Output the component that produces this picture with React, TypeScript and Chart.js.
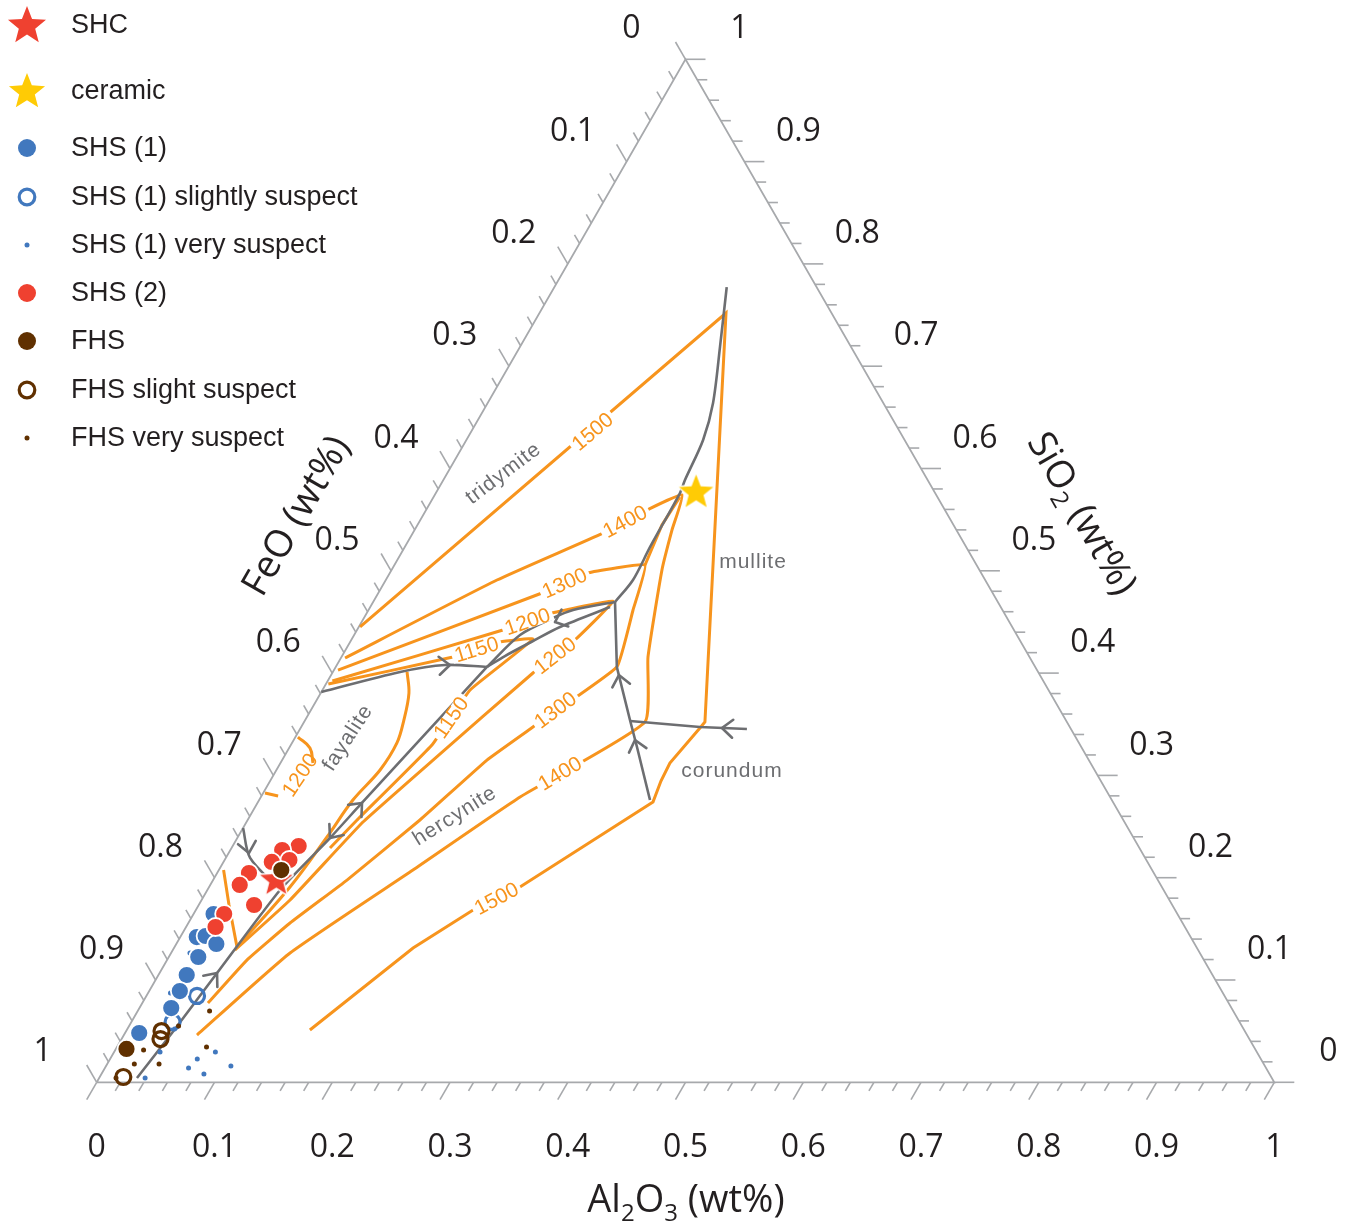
import React, { useEffect, useRef } from 'react';
import { Chart, registerables } from 'chart.js';
Chart.register(...registerables);

// Every composition is [Al2O3, SiO2] as mass fraction; FeO = 1 - Al2O3 - SiO2
type P = [number, number];

// ---------------- samples ----------------
const shcPoints: P[] = [[0.053, 0.199]];
const ceramicPoints: P[] = [[0.220, 0.578]];
const shs1Points: P[] = [[0.017, 0.1645], [0.014, 0.142], [0.021, 0.143], [0.034, 0.1352], [0.025, 0.1225], [0.024, 0.1049], [0.026, 0.0892], [0.027, 0.0726], [0.012, 0.0482]];
const shs1SlightPoints: P[] = [[0.043, 0.0844], [0.035, 0.0589]];
const shs1VeryPoints: P[] = [[0.039, 0.0042], [0.039, 0.0296], [0.074, 0.0228], [0.071, 0.014], [0.087, 0.0081], [0.086, 0.0296], [0.106, 0.0159], [0.040, 0.0521], [0.019, 0.0873], [0.016, 0.1264]];
const shs2Points: P[] = [[0.056, 0.231], [0.044, 0.227], [0.055, 0.2173], [0.041, 0.2154], [0.027, 0.2046], [0.025, 0.1929], [0.047, 0.1733], [0.026, 0.1645], [0.025, 0.1518]];
const fhsPoints: P[] = [[0.053, 0.2075], [0.009, 0.0326]];
const fhsSlightPoints: P[] = [[0.030, 0.0501], [0.033, 0.0423], [0.020, 0.0052]];
const fhsVeryPoints: P[] = [[0.0143, 0.0042], [0.023, 0.0179], [0.024, 0.0316], [0.044, 0.0179], [0.042, 0.055], [0.076, 0.0345], [0.061, 0.0697]];

// ---------------- liquidus isotherms ----------------
const iso1500: P[] = [[0.1555, 0.0511], [0.2030, 0.1313], [0.2354, 0.1684], [0.2640, 0.1909], [0.3354, 0.2740], [0.3319, 0.2945], [0.3307, 0.3121], [0.3391, 0.3463], [0.3404, 0.3522], [0.1584, 0.7520], [0.0011, 0.4451]];
const iso1400: P[] = [[0.0621, 0.0462], [0.1010, 0.1264], [0.1648, 0.2075], [0.2201, 0.2789], [0.2895, 0.3522], [0.2603, 0.4157], [0.2296, 0.5008], [0.2186, 0.5399], [0.2100, 0.5741], [0.1876, 0.5594], [0.1615, 0.5369], [0.0944, 0.4910], [0.0035, 0.4148]];
const iso1300: P[] = [[0.0557, 0.0775], [0.0678, 0.1195], [0.0863, 0.1557], [0.1137, 0.1977], [0.1463, 0.2564], [0.1739, 0.3150], [0.1968, 0.3473], [0.2387, 0.4060], [0.2246, 0.4617], [0.2128, 0.5057], [0.1675, 0.4978], [0.1390, 0.4783], [0.0034, 0.4030]];
const iso1300Mullite: P[] = [[0.2128, 0.5057], [0.2076, 0.5448], [0.2092, 0.5721]];
const iso1200: P[] = [[0.0527, 0.1293], [0.0751, 0.1782], [0.0989, 0.2544], [0.1281, 0.3150], [0.1704, 0.4001], [0.1907, 0.4343], [0.2032, 0.4705], [0.1572, 0.4587], [0.1239, 0.4421], [0.0040, 0.3923]];
const iso1150: P[] = [[0.0836, 0.2290], [0.0929, 0.2564], [0.1198, 0.3297], [0.1253, 0.3835], [0.1538, 0.4333], [0.1273, 0.4304], [0.0947, 0.4157], [0.0020, 0.3894]];
const iso1150Fayalite: P[] = [[0.0630, 0.4011], [0.0749, 0.3805], [0.0838, 0.3541], [0.0891, 0.3317], [0.0880, 0.3053], [0.0796, 0.2759], [0.0757, 0.2398], [0.0687, 0.1909], [0.0530, 0.1323]];
const isoWustite: P[] = [[0.0530, 0.1323], [0.0257, 0.1733], [0.0040, 0.2075]];
const iso1200FayaliteA: P[] = [[0.0021, 0.3375], [0.0177, 0.3268], [0.0276, 0.3121]];
const iso1200FayaliteB: P[] = [[0.0015, 0.2828], [0.0141, 0.2799]];

// ---------------- field boundaries ----------------
const bndTridymiteMullite: P[] = [[0.1463, 0.7774], [0.1699, 0.7188], [0.1914, 0.6640], [0.2010, 0.6279], [0.2052, 0.5887], [0.2073, 0.5760], [0.2083, 0.5233], [0.2099, 0.4910], [0.2054, 0.4695]];
const bndUpper: P[] = [[0.2054, 0.4695], [0.1737, 0.4617], [0.1606, 0.4539], [0.1409, 0.4372], [0.1284, 0.4060]];
const bndLower: P[] = [[0.2036, 0.4646], [0.1709, 0.4451], [0.1548, 0.4314], [0.1383, 0.4167], [0.1284, 0.4060]];
const bndHercyniteMullite: P[] = [[0.2054, 0.4695], [0.2387, 0.4060], [0.2758, 0.3541], [0.2949, 0.3278], [0.3319, 0.2759]];
const bndCorundumMullite: P[] = [[0.2763, 0.3532], [0.3386, 0.3473], [0.3795, 0.3453]];
const bndFayaliteTridymite: P[] = [[0.0000, 0.3815], [0.0571, 0.4011], [0.0918, 0.4079], [0.1284, 0.4060]];
const bndFayaliteHercynite: P[] = [[0.1284, 0.4060], [0.0881, 0.2711], [0.0787, 0.2388], [0.0617, 0.1880], [0.0488, 0.1068], [0.0398, 0.0482], [0.0321, 0.0042]];
const bndWustite: P[] = [[0.0000, 0.2486], [0.0206, 0.2193], [0.0617, 0.1880]];

// arrows: [tip, tail]
const arrowMarks: [P, P][] = [
  [[0.0960, 0.4079], [0.0838, 0.4069]],
  [[0.1642, 0.4499], [0.1740, 0.4558]],
  [[0.2444, 0.3981], [0.2544, 0.3835]],
  [[0.2898, 0.3346], [0.3005, 0.3199]],
  [[0.3578, 0.3463], [0.3710, 0.3453]],
  [[0.0888, 0.2730], [0.0857, 0.2623]],
  [[0.0787, 0.2388], [0.0808, 0.2515]],
  [[0.0488, 0.1068], [0.0459, 0.0922]],
  [[0.0172, 0.2241], [0.0074, 0.2388]],
];

// isotherm labels: text, position, angle (deg)
const isoLabelText = ['1500', '1400', '1300', '1200', '1150', '1200', '1150', '1300', '1400', '1500', '1200'];
const isoLabelAt: P[] = [[0.1029, 0.6362], [0.1745, 0.5482], [0.1533, 0.4881], [0.1406, 0.4504], [0.1110, 0.4231], [0.1806, 0.4172], [0.1226, 0.3566], [0.2076, 0.3639], [0.2425, 0.3019], [0.2497, 0.1797], [0.0224, 0.3004]];
const isoLabelAngle = [40, 28, 24, 19, 17, 38, 55, 37, 31, 28, 56];

const fieldText = ['tridymite', 'mullite', 'corundum', 'fayalite', 'hercynite'];
const fieldAt: P[] = [[0.0479, 0.5951], [0.3030, 0.5086], [0.3873, 0.3043], [0.0451, 0.3366], [0.1741, 0.2603]];
const fieldAngle = [37, 0, 0, 57, 32];

const tickLabels = ['0', '0.1', '0.2', '0.3', '0.4', '0.5', '0.6', '0.7', '0.8', '0.9', '1'];
const legendLabels = ['SHC', 'ceramic', 'SHS (1)', 'SHS (1) slightly suspect', 'SHS (1) very suspect', 'SHS (2)', 'FHS', 'FHS slight suspect', 'FHS very suspect'];

// ---------------- styling ----------------
const ORANGE = '#F7941D';
const GREY = '#6D6E71';
const AXIS = '#A7A9AC';
const TXT = '#231F20';
const BLUE = '#4178BE';
const RED = '#EF4130';
const BROWN = '#603000';
const YELLOW = '#FFCB05';

const toXY = (p: P) => ({ x: p[0] + p[1] / 2, y: p[1] });

function starPath(ctx: CanvasRenderingContext2D, cx: number, cy: number, R: number, r: number) {
  ctx.beginPath();
  for (let i = 0; i < 10; i++) {
    const rad = i % 2 === 0 ? R : r;
    const a = -Math.PI / 2 + (i * Math.PI) / 5;
    const x = cx + rad * Math.cos(a);
    const y = cy + rad * Math.sin(a);
    if (i === 0) ctx.moveTo(x, y);
    else ctx.lineTo(x, y);
  }
  ctx.closePath();
}

function makeStar(color: string, R: number, outline: number) {
  const c = document.createElement('canvas');
  const s = Math.ceil(2 * R + 2 * outline + 4);
  c.width = s;
  c.height = s;
  const ctx = c.getContext('2d')!;
  starPath(ctx, s / 2, s / 2 + 1.5, R, R * 0.43);
  if (outline) {
    ctx.lineWidth = outline * 2;
    ctx.strokeStyle = '#fff';
    ctx.lineJoin = 'round';
    ctx.stroke();
  }
  ctx.fillStyle = color;
  ctx.fill();
  return c;
}

function drawRich(ctx: CanvasRenderingContext2D, parts: { t: string; sub?: boolean }[], cx: number, cy: number, angleDeg: number, size: number) {
  ctx.save();
  ctx.translate(cx, cy);
  ctx.rotate((angleDeg * Math.PI) / 180);
  const fMain = `${size}px "Open Sans", sans-serif`;
  const fSub = `${Math.round(size * 0.62)}px "Open Sans", sans-serif`;
  let total = 0;
  const widths = parts.map((p) => {
    ctx.font = p.sub ? fSub : fMain;
    const w = ctx.measureText(p.t).width;
    total += w;
    return w;
  });
  let x = -total / 2;
  ctx.fillStyle = TXT;
  ctx.textAlign = 'left';
  ctx.textBaseline = 'alphabetic';
  const base = size * 0.35;
  parts.forEach((p, i) => {
    ctx.font = p.sub ? fSub : fMain;
    ctx.fillText(p.t, x, base + (p.sub ? size * 0.22 : 0));
    x += widths[i];
  });
  ctx.restore();
}

function pix(chart: any, p: P): [number, number] {
  return [chart.scales.x.getPixelForValue(p[0] + p[1] / 2), chart.scales.y.getPixelForValue(p[1])];
}

const ternaryPlugin = {
  id: 'ternary',
  beforeDatasetsDraw(chart: any) {
    const ctx: CanvasRenderingContext2D = chart.ctx;
    ctx.save();
    const axes = [
      { point: (v: number) => [v, 0] as P, dir: [-0.5, 0.866], off: [0, 66] },
      { point: (v: number) => [0, 1 - v] as P, dir: [-0.5, -0.866], off: [-54, -30] },
      { point: (v: number) => [1 - v, v] as P, dir: [1, 0], off: [54, -30] },
    ];
    ctx.strokeStyle = AXIS;
    ctx.lineWidth = 1.6;
    axes.forEach((ax) => {
      for (let i = 0; i <= 50; i++) {
        const [x, y] = pix(chart, ax.point(i / 50));
        const len = i % 5 === 0 ? 20 : 10;
        ctx.beginPath();
        ctx.moveTo(x, y);
        ctx.lineTo(x + ax.dir[0] * len, y + ax.dir[1] * len);
        ctx.stroke();
      }
      ctx.fillStyle = TXT;
      ctx.font = '32px "Open Sans", sans-serif';
      ctx.textAlign = 'center';
      ctx.textBaseline = 'middle';
      tickLabels.forEach((t, i) => {
        const [x, y] = pix(chart, ax.point(i / 10));
        ctx.fillText(t, x + ax.off[0], y + ax.off[1]);
      });
    });
    drawRich(ctx, [{ t: 'Al' }, { t: '2', sub: true }, { t: 'O' }, { t: '3', sub: true }, { t: ' (wt%)' }], 686, 1199, 0, 38);
    drawRich(ctx, [{ t: 'FeO (wt%)' }], 295, 515, -60, 38);
    drawRich(ctx, [{ t: 'SiO' }, { t: '2', sub: true }, { t: ' (wt%)' }], 1083, 513, 60, 38);
    ctx.restore();
  },
  beforeDatasetDraw(chart: any, args: any) {
    const ds = chart.data.datasets[args.index];
    if (ds.kind !== 'firstPoints') return;
    const ctx: CanvasRenderingContext2D = chart.ctx;
    ctx.save();
    // arrows
    ctx.strokeStyle = GREY;
    ctx.lineWidth = 2.6;
    ctx.lineCap = 'round';
    arrowMarks.forEach(([tip, tail]) => {
      const [tx, ty] = pix(chart, tip);
      const [bx, by] = pix(chart, tail);
      const d = Math.hypot(tx - bx, ty - by) || 1;
      const ux = (tx - bx) / d, uy = (ty - by) / d;
      const L = 14, a = (40 * Math.PI) / 180;
      ctx.beginPath();
      for (const s of [1, -1]) {
        const c = Math.cos(a), sn = Math.sin(a) * s;
        const rx = ux * c - uy * sn, ry = ux * sn + uy * c;
        ctx.moveTo(tx, ty);
        ctx.lineTo(tx - rx * L, ty - ry * L);
      }
      ctx.stroke();
    });
    // isotherm labels
    ctx.font = '21px "Liberation Sans", Arial, sans-serif';
    ctx.textAlign = 'center';
    ctx.textBaseline = 'middle';
    isoLabelText.forEach((t, i) => {
      const [x, y] = pix(chart, isoLabelAt[i]);
      ctx.save();
      ctx.translate(x, y);
      ctx.rotate((-isoLabelAngle[i] * Math.PI) / 180);
      const w = ctx.measureText(t).width;
      if (i !== isoLabelText.length - 1) {
        ctx.fillStyle = '#fff';
        ctx.fillRect(-w / 2 - 3, -7, w + 6, 14);
      }
      ctx.fillStyle = ORANGE;
      ctx.fillText(t, 0, 1);
      ctx.restore();
    });
    // field labels
    ctx.font = '21px "Liberation Sans", Arial, sans-serif';
    (ctx as any).letterSpacing = '1px';
    fieldText.forEach((t, i) => {
      const [x, y] = pix(chart, fieldAt[i]);
      ctx.save();
      ctx.translate(x, y);
      ctx.rotate((-fieldAngle[i] * Math.PI) / 180);
      ctx.fillStyle = GREY;
      ctx.fillText(t, 0, 0);
      ctx.restore();
    });
    (ctx as any).letterSpacing = '0px';
    ctx.restore();
  },
  afterDraw(chart: any) {
    const ctx: CanvasRenderingContext2D = chart.ctx;
    ctx.save();
    const ys = [25, 91, 148, 197, 245, 293, 341, 390, 438];
    const mx = 27;
    starPath(ctx, mx, ys[0] + 1, 20, 8.6);
    ctx.fillStyle = RED;
    ctx.fill();
    starPath(ctx, mx, ys[1] + 1, 19, 8.2);
    ctx.fillStyle = YELLOW;
    ctx.fill();
    const dot = (y: number, r: number, c: string) => {
      ctx.beginPath();
      ctx.arc(mx, y, r, 0, Math.PI * 2);
      ctx.fillStyle = c;
      ctx.fill();
    };
    const ring = (y: number, c: string) => {
      ctx.beginPath();
      ctx.arc(mx, y, 7.8, 0, Math.PI * 2);
      ctx.strokeStyle = c;
      ctx.lineWidth = 3.2;
      ctx.stroke();
    };
    dot(ys[2], 9, BLUE);
    ring(ys[3], BLUE);
    dot(ys[4], 2.5, BLUE);
    dot(ys[5], 9, RED);
    dot(ys[6], 9, BROWN);
    ring(ys[7], BROWN);
    dot(ys[8], 2.5, BROWN);
    ctx.fillStyle = TXT;
    ctx.font = '27px "Liberation Sans", Arial, sans-serif';
    ctx.textAlign = 'left';
    ctx.textBaseline = 'middle';
    legendLabels.forEach((t, i) => ctx.fillText(t, 71, ys[i] + 1));
    ctx.restore();
  },
};

function lineSet(data: P[], color: string, width: number, order: number, tension = 0) {
  return {
    data: data.map(toXY),
    showLine: true,
    borderColor: color,
    borderWidth: width,
    pointRadius: 0,
    tension,
    fill: false,
    order,
  };
}

function pointSet(data: P[], opts: any) {
  return { data: data.map(toXY), showLine: false, ...opts };
}

export default function App() {
  const ref = useRef<HTMLCanvasElement>(null);
  useEffect(() => {
    const shcStar = makeStar(RED, 17, 1.5);
    const ceramicStar = makeStar(YELLOW, 18, 1.5);
    const datasets: any[] = [
      lineSet([[0, 0], [1, 0], [0, 1], [0, 0]], AXIS, 1.8, 120),
      lineSet(iso1500, ORANGE, 3, 110),
      lineSet(iso1400, ORANGE, 3, 110, 0.15),
      lineSet(iso1300, ORANGE, 3, 110, 0.1),
      lineSet(iso1300Mullite, ORANGE, 3, 110),
      lineSet(iso1200, ORANGE, 3, 110, 0.1),
      lineSet(iso1150, ORANGE, 3, 110, 0.1),
      lineSet(iso1150Fayalite, ORANGE, 3, 110, 0.35),
      lineSet(isoWustite, ORANGE, 3, 110),
      lineSet(iso1200FayaliteA, ORANGE, 3, 110, 0.4),
      lineSet(iso1200FayaliteB, ORANGE, 3, 110),
      lineSet(bndTridymiteMullite, GREY, 2.6, 100, 0.3),
      lineSet(bndUpper, GREY, 2.6, 100, 0.3),
      lineSet(bndLower, GREY, 2.6, 100, 0.3),
      lineSet(bndHercyniteMullite, GREY, 2.6, 100),
      lineSet(bndCorundumMullite, GREY, 2.6, 100),
      lineSet(bndFayaliteTridymite, GREY, 2.6, 100, 0.3),
      lineSet(bndFayaliteHercynite, GREY, 2.6, 100, 0.2),
      lineSet(bndWustite, GREY, 2.6, 100, 0.3),
      pointSet(shs1VeryPoints, { kind: 'firstPoints', pointRadius: 2.5, backgroundColor: BLUE, borderWidth: 0, order: 50 }),
      pointSet(shs1SlightPoints, { pointRadius: 7.5, backgroundColor: 'rgba(0,0,0,0)', borderColor: BLUE, borderWidth: 3.2, order: 45 }),
      pointSet(shs1Points, { pointRadius: 9, backgroundColor: BLUE, borderColor: '#fff', borderWidth: 1.8, order: 40 }),
      pointSet(shs2Points, { pointRadius: 9, backgroundColor: RED, borderColor: '#fff', borderWidth: 1.8, order: 35 }),
      pointSet(shcPoints, { pointStyle: shcStar, pointRadius: 17, order: 30 }),
      pointSet(fhsVeryPoints, { pointRadius: 2.5, backgroundColor: BROWN, borderWidth: 0, order: 25 }),
      pointSet(fhsSlightPoints, { pointRadius: 7.5, backgroundColor: 'rgba(0,0,0,0)', borderColor: BROWN, borderWidth: 3.2, order: 20 }),
      pointSet(fhsPoints, { pointRadius: 9, backgroundColor: BROWN, borderColor: '#fff', borderWidth: 1.8, order: 15 }),
      pointSet(ceramicPoints, { pointStyle: ceramicStar, pointRadius: 18, order: 10 }),
    ];
    const chart = new Chart(ref.current!, {
      type: 'scatter',
      data: { datasets },
      options: {
        animation: false,
        responsive: false,
        maintainAspectRatio: false,
        events: [],
        layout: { padding: 0, autoPadding: false },
        scales: {
          x: { type: 'linear', min: -96.7 / 1177.6, max: (1358 - 96.7) / 1177.6, display: false },
          y: { type: 'linear', min: -(1227 - 1082.3) / 1023, max: 1082.3 / 1023, display: false },
        },
        plugins: { legend: { display: false }, tooltip: { enabled: false } },
      },
      plugins: [ternaryPlugin],
    } as any);
    return () => chart.destroy();
  }, []);
  return (
    <div style={{ position: 'absolute', left: 0, top: 0, width: 1358, height: 1227, background: '#fff' }}>
      <canvas ref={ref} width={1358} height={1227} style={{ display: 'block', width: 1358, height: 1227 }} />
    </div>
  );
}
